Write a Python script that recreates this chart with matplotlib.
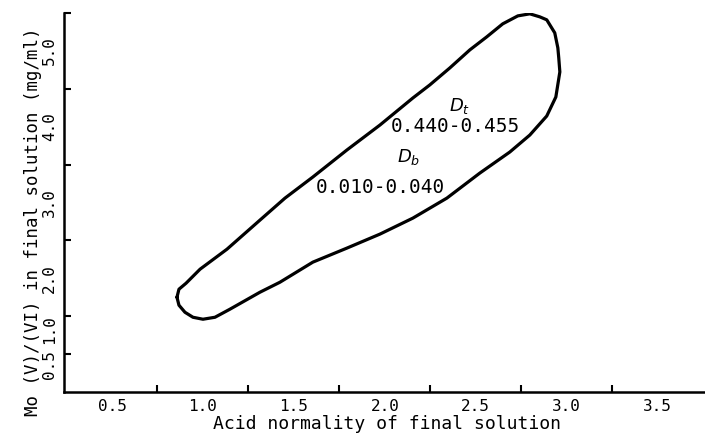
import matplotlib
matplotlib.use("Agg")
import matplotlib.pyplot as plt

# outline of the region (acid normality, Mo(V)/(VI) mg/ml)
outline_x = [0.857, 0.868, 0.901, 0.945, 1.000, 1.066, 1.148, 1.313, 1.423, 1.604,
             1.791, 1.973, 2.154, 2.341, 2.522, 2.687, 2.797, 2.890, 2.940, 2.962,
             2.956, 2.951, 2.934, 2.890, 2.852, 2.797, 2.731, 2.648, 2.560, 2.467,
             2.357, 2.247, 2.154, 1.973, 1.791, 1.604, 1.451, 1.313, 1.132, 0.984,
             0.907, 0.868, 0.857]
outline_y = [1.750, 1.645, 1.552, 1.486, 1.460, 1.486, 1.592, 1.816, 1.948, 2.213,
             2.398, 2.583, 2.794, 3.058, 3.388, 3.666, 3.890, 4.141, 4.392, 4.723,
             4.908, 5.040, 5.238, 5.410, 5.449, 5.489, 5.462, 5.357, 5.185, 5.013,
             4.775, 4.551, 4.379, 4.022, 3.692, 3.336, 3.058, 2.767, 2.384, 2.120,
             1.935, 1.856, 1.750]

x_labels = ["0.5", "1.0", "1.5", "2.0", "2.5", "3.0", "3.5"]
x_label_vals = [0.5, 1.0, 1.5, 2.0, 2.5, 3.0, 3.5]
x_marks = [0.5, 0.75, 1.25, 1.75, 2.25, 2.75, 3.25]

y_labels = ["0.5", "1.0", "2.0", "3.0", "4.0", "5.0"]
y_label_vals = [0.86, 1.33, 2.0, 3.0, 4.0, 5.0]   # where the printed labels sit
y_marks = [1.0, 1.5, 2.5, 3.5, 4.5, 5.5]

plt.rcParams['font.family'] = ['DejaVu Sans Mono', 'DejaVu Sans']

fig = plt.figure(figsize=(7.05, 4.34), dpi=100)
ax = fig.add_axes([64/705, 42/434, 641/705, 379/434])

ax.plot(outline_x, outline_y, color='black', lw=2.3, solid_joinstyle='round',
        solid_capstyle='round')

ax.text(2.41, 4.27, r"$D_t$", fontsize=13, ha='center', va='center')
ax.text(2.385, 4.0, "0.440-0.455", fontsize=14, ha='center', va='center')
ax.text(2.13, 3.60, r"$D_b$", fontsize=13, ha='center', va='center')
ax.text(1.978, 3.20, "0.010-0.040", fontsize=14, ha='center', va='center')

ax.set_xlim(0.236, 3.76)
ax.set_ylim(0.5, 5.5)

for s in ['top', 'right']:
    ax.spines[s].set_visible(False)
for s in ['left', 'bottom']:
    ax.spines[s].set_linewidth(1.8)

ax.set_xticks(x_label_vals)
ax.set_xticklabels(x_labels)
ax.set_xticks(x_marks, minor=True)
ax.set_yticks(y_label_vals)
ax.set_yticklabels(y_labels, rotation=90, va='center')
ax.set_yticks(y_marks, minor=True)
ax.tick_params(which='major', length=0, labelsize=11.5)
ax.tick_params(axis='x', which='major', pad=5)
ax.tick_params(axis='y', which='major', pad=5)
ax.tick_params(which='minor', direction='in', length=5, width=1.5)

ax.set_xlabel("Acid normality of final solution", fontsize=13)
ax.xaxis.set_label_coords((387-64)/641, -0.060)
ax.set_ylabel("Mo (V)/(VI) in final solution (mg/ml)", fontsize=12.5)
ax.yaxis.set_label_coords(-0.034, 0.45)

fig.savefig("out.png", dpi=100)
